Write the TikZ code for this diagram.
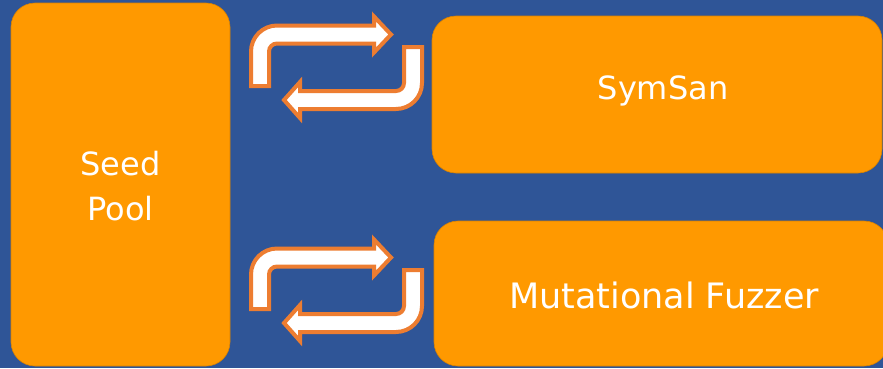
\documentclass[tikz,border=0pt]{standalone}
\usepackage{fontspec}
\setmainfont{DejaVu Sans}
\definecolor{bgblue}{HTML}{2F5597}
\definecolor{boxorange}{HTML}{FF9900}
\definecolor{arroworange}{HTML}{ED7D31}
\tikzset{
  block/.style={fill=boxorange, draw=boxorange!85!black, line width=0.6pt, rounded corners=24},
  lbl/.style={text=white, font=\fontsize{32}{45}\selectfont, align=center},
  cyc/.style={fill=white, draw=arroworange, line width=4, line join=miter}
}
\begin{document}
\begin{tikzpicture}[x=1pt,y=-1pt]
\useasboundingbox (0,0) rectangle (883,368);
\fill[bgblue] (0,0) rectangle (883,368);
\begin{scope}
\clip (0,0) rectangle (883,368);
\draw[block] (11,3) rectangle (230,366);
\draw[block] (432,16) rectangle (882,173);
\draw[block] (434,221) rectangle (888,366);
\end{scope}
\node[lbl] (seed) at (120.5,186) {Seed\\Pool};
\node[lbl] (symsan) at (663,91) {SymSan};
\node[lbl, font=\fontsize{35}{45}\selectfont] (fuzz) at (664,295) {Mutational Fuzzer};
\foreach \dy in {0,223}{
\begin{scope}[yshift=-\dy pt]
\draw[cyc] (251,86) -- (251,51.5) arc(180:270:26) -- (374,25.5) -- (374,16.5) -- (391,34.5) -- (374,52.5) -- (374,43.5) -- (277,43.5) arc(270:180:8) -- (269,86) -- cycle;
\draw[cyc] (404,47) -- (422,47) -- (422,83) arc(0:90:26) -- (300,109) -- (300,118) -- (284,100) -- (300,82) -- (300,91) -- (396,91) arc(90:0:8) -- cycle;
\end{scope}}
\end{tikzpicture}
\end{document}
